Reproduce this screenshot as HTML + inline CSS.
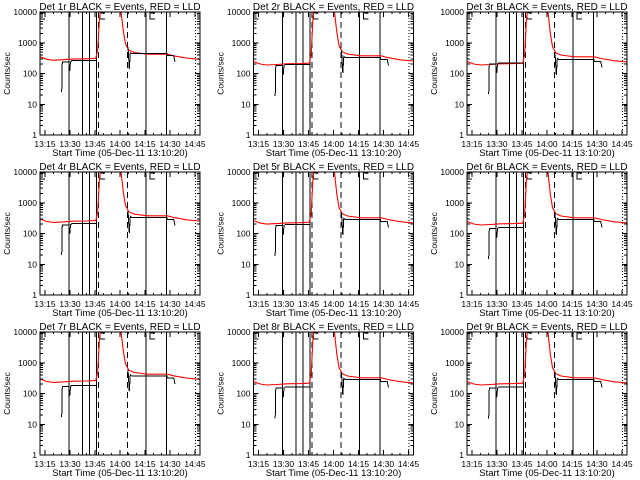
<!DOCTYPE html>
<html><head><meta charset="utf-8">
<style>
html,body{margin:0;padding:0;background:#fff;}
svg{display:block;font-family:"Liberation Sans",sans-serif;}
</style></head>
<body>
<svg id="chart" width="640" height="480" viewBox="0 0 640 480" xmlns="http://www.w3.org/2000/svg" shape-rendering="crispEdges"></svg>
<script>
// time in minutes after 13:00
const xTickMinutes = [15, 30, 45, 60, 75, 90, 105];
const xTickLabels = ["13:15","13:30","13:45","14:00","14:15","14:30","14:45"];
const yTickValues = [1, 10, 100, 1000, 10000];
const yTickLabels = ["1","10","100","1000","10000"];
const panelNames = ["1r","2r","3r","4r","5r","6r","7r","8r","9r"];
// LLD (red) base series
const redTimes = [12,16,20,26,32,40,45.5,46.6,47.6,48.4,60.3,62,63.3,65.3,68.4,76.4,88.5,92.5,100.5,108];
const redValues = [350,290,270,280,295,300,310,600,5000,14000,14000,2950,1070,680,570,500,500,440,370,340];
// Events (black) base segments
const blackSeg1Times = [25,25.4,29.5];
const blackSeg1Values = [25,240,240];
const blackSeg2Times = [29.8,30.3,31,45.5];
const blackSeg2Values = [120,240,260,260];
const blackSeg3Times = [64.8,65.6,66.2,67,88.2,88.4,92.2,93];
const blackSeg3Values = [740,140,480,440,440,380,380,240];
// per-panel level scale factors (pre-flare, post-flare)
const redPreScale = [1.0,0.7,0.7,0.85,0.75,0.7,0.85,0.7,0.7];
const redPostScale = [0.85,0.75,0.7,0.75,0.65,0.65,0.85,0.65,0.65];
const blkPreScale = [1.0,0.75,0.85,0.8,0.75,0.6,0.7,0.62,0.62];
const blkPostScale = [1.0,0.75,0.65,0.75,0.65,0.65,0.85,0.65,0.65];
// marker lines
const solidLines = [29.5,37.4,41.6,45.8,75.6,88];
const dashedLines = [47.2,64.5];
const dottedLines = [105.2];

const NS="http://www.w3.org/2000/svg";
const svg=document.getElementById('chart');
const colLeft=[40,253.5,467], rowTop=[12,172,332], W=160, H=123;
const tMin=12, tMax=108;

function mk(tag,attrs,parent){const e=document.createElementNS(NS,tag);for(const k in attrs)e.setAttribute(k,attrs[k]);(parent||svg).appendChild(e);return e;}

for(let p=0;p<9;p++){
  const L=colLeft[p%3], T=rowTop[Math.floor(p/3)];
  const xs=t=>L+(t-tMin)/(tMax-tMin)*W;
  const ys=v=>T+H-(Math.log10(v)/4)*H;
  const g=mk('g',{});
  
  
  const cid='clip'+p;
  const cp=mk('clipPath',{id:cid},g);mk('rect',{x:L,y:T,width:W,height:H},cp);
  const title=mk('text',{x:L+W/2,y:T-2,'text-anchor':'middle','font-size':'10'},g);
  title.textContent='Det '+panelNames[p]+' BLACK = Events, RED = LLD';
  
  
  const lg=mk('g',{'clip-path':'url(#'+cid+')',stroke:'#000','stroke-width':1},g);
  solidLines.forEach(t=>mk('line',{x1:xs(t),x2:xs(t),y1:T,y2:T+H},lg));
  dashedLines.forEach(t=>mk('line',{x1:xs(t),x2:xs(t),y1:T,y2:T+H,'stroke-dasharray':'6,4'},lg));
  dottedLines.forEach(t=>mk('line',{x1:xs(t),x2:xs(t),y1:T,y2:T+H,'stroke-dasharray':'1,2'},lg));
  [[12,15],[48,51],[78,81]].forEach(a=>{mk('polyline',{points:xs(a[1])+','+(T+1)+' '+xs(a[0])+','+(T+1)+' '+xs(a[0])+','+(T+7)+' '+xs(a[1])+','+(T+7),fill:'none'},lg);});
  const rp=redTimes.map((t,i)=>{const s=t<47?redPreScale[p]:(t>61?redPostScale[p]:1);return xs(t).toFixed(1)+','+ys(redValues[i]*s).toFixed(1);}).join(' ');
  const red=mk('polyline',{points:rp,fill:'none',stroke:'#ff0000','stroke-width':1.1,'clip-path':'url(#'+cid+')','shape-rendering':'auto'},g);
  
  
  [[blackSeg1Times,blackSeg1Values,blkPreScale],[blackSeg2Times,blackSeg2Values,blkPreScale],[blackSeg3Times,blackSeg3Values,blkPostScale]].forEach(sg=>{
    const pts=sg[0].map((t,i)=>xs(t).toFixed(1)+','+ys(sg[1][i]*sg[2][p]).toFixed(1)).join(' ');
    const b=mk('polyline',{points:pts,fill:'none',stroke:'#000','stroke-width':1,'clip-path':'url(#'+cid+')'},g);
    
    
  });
  mk('rect',{x:L,y:T,width:W,height:H,fill:'none',stroke:'#000','stroke-width':1},g);
  xTickMinutes.forEach((t,i)=>{
    const x=xs(t);
    mk('line',{x1:x,x2:x,y1:T+H,y2:T+H-5,stroke:'#000'},g);
    mk('line',{x1:x,x2:x,y1:T,y2:T+5,stroke:'#000'},g);
    const tx=mk('text',{x:x,y:T+H+12,'text-anchor':'middle','font-size':'8.5'},g);
    tx.textContent=xTickLabels[i];
    
    
  });
  for(let t=15;t<=105;t+=5){if(t%15){const x=xs(t);mk('line',{x1:x,x2:x,y1:T+H,y2:T+H-2,stroke:'#000'},g);mk('line',{x1:x,x2:x,y1:T,y2:T+2,stroke:'#000'},g);}}
  yTickValues.forEach((v,i)=>{
    const y=ys(v);
    mk('line',{x1:L,x2:L+5,y1:y,y2:y,stroke:'#000'},g);
    mk('line',{x1:L+W,x2:L+W-5,y1:y,y2:y,stroke:'#000'},g);
    const ty=mk('text',{x:L-3,y:y+3,'text-anchor':'end','font-size':'8.5'},g);
    ty.textContent=yTickLabels[i];
    
    
    if(i<yTickValues.length-1){for(let m=2;m<10;m++){const yy=ys(v*m);mk('line',{x1:L,x2:L+3,y1:yy,y2:yy,stroke:'#000'},g);mk('line',{x1:L+W,x2:L+W-3,y1:yy,y2:yy,stroke:'#000'},g);}}
  });
  const yt=mk('text',{x:0,y:0,'text-anchor':'middle','font-size':'8.5',transform:'translate('+(L-30)+','+(T+H/2)+') rotate(-90)'},g);
  yt.textContent='Counts/sec';
  
  
  const xt=mk('text',{x:L+W/2,y:T+H+21,'text-anchor':'middle','font-size':'9.5'},g);
  xt.textContent='Start Time (05-Dec-11 13:10:20)';
  
  
}
</script>
</body></html>
